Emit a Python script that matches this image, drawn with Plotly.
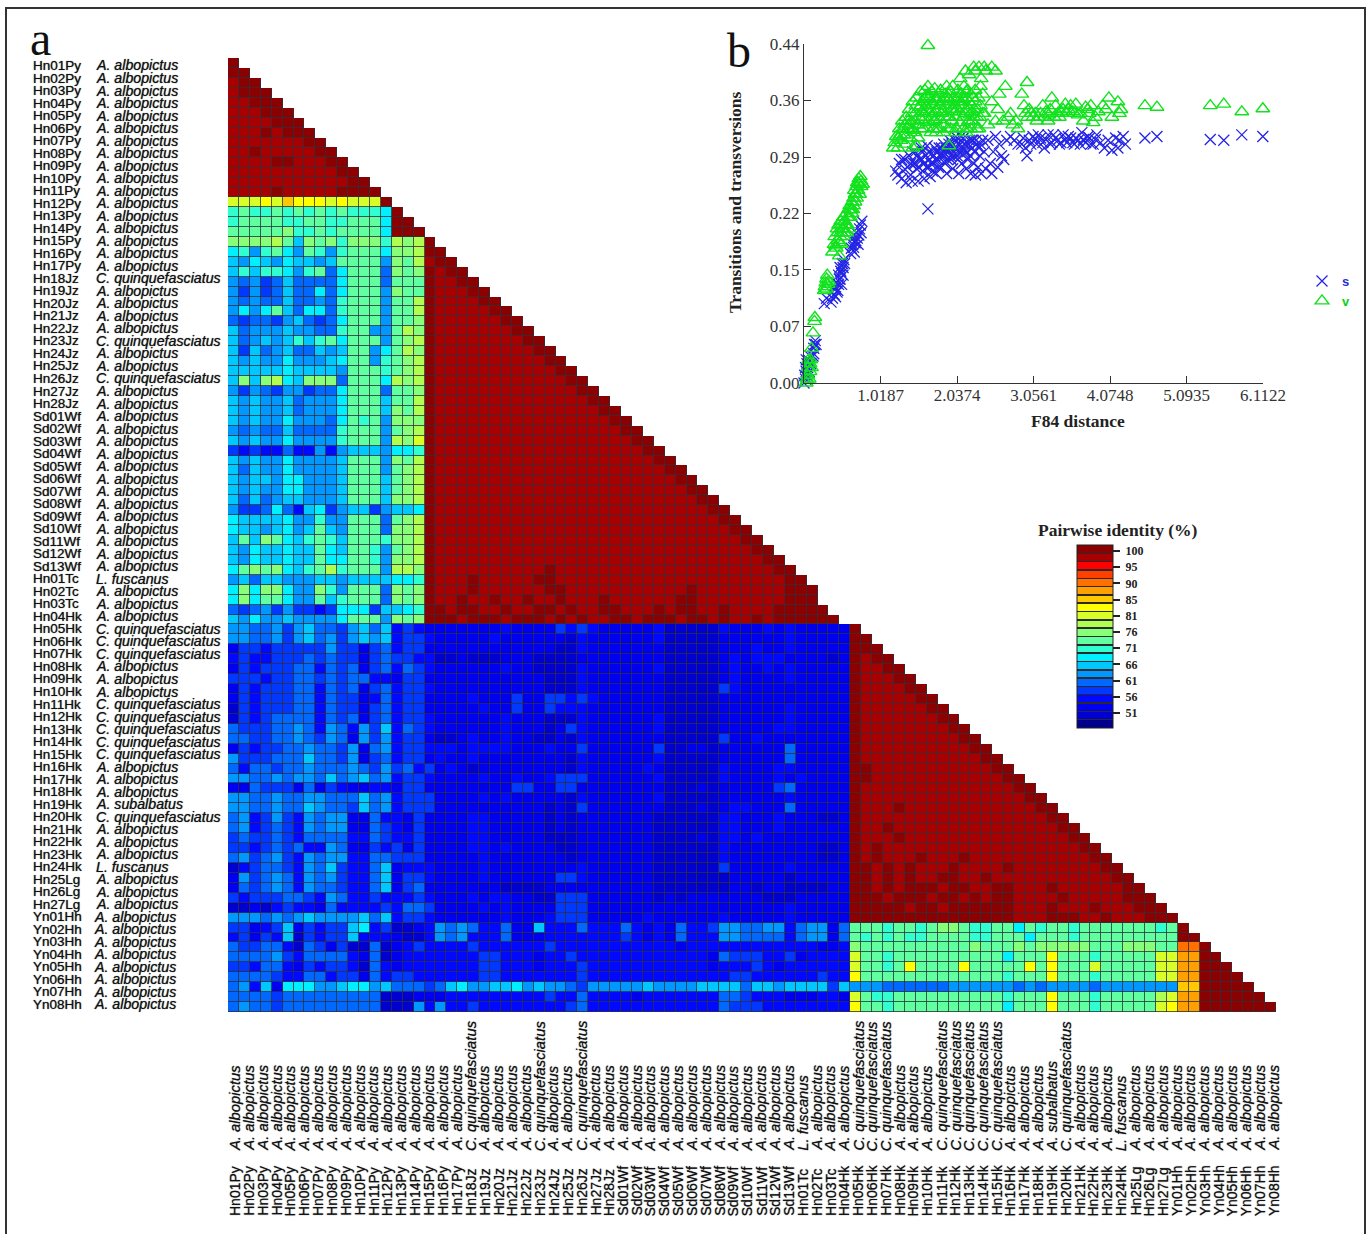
import plotly.graph_objects as go

W, H = 1371, 1234

# ---------- sequence labels ----------
codes = ["Hn%02dPy" % i for i in range(1, 18)] + ["Hn%02dJz" % i for i in range(18, 29)] + \
        ["Sd%02dWf" % i for i in range(1, 14)] + ["Hn%02dTc" % i for i in range(1, 4)] + \
        ["Hn%02dHk" % i for i in range(4, 25)] + ["Hn%02dLg" % i for i in range(25, 28)] + \
        ["Yn%02dHh" % i for i in range(1, 9)]
A, C, L_, S = "A. albopictus", "C. quinquefasciatus", "L. fuscanus", "A. subalbatus"
species = [A]*17 + [C] + [A]*4 + [C] + [A]*2 + [C] + [A]*2 + [A]*13 + [L_, A, A] + [A] + [C]*3 + [A]*3 + \
          [C]*5 + [A]*3 + [S] + [C] + [A]*3 + [L_] + [A]*3 + [A]*8

# ---------- identity levels: one character per cell, index into the 22 legend bands ----------
LEVELS = "0123456789ABCDEFGHIJKL"
band_colors = ["#00008b", "#0000d0", "#0000f0", "#0008ff", "#0038ff", "#0068ff", "#0098ff", "#00c8ff",
               "#00f0ff", "#30ffd0", "#60ffa0", "#88ff78", "#b0ff50", "#d8ff28", "#ffff00", "#ffc800",
               "#ffa000", "#ff7000", "#ff4000", "#ff0000", "#a80000", "#8b0000"]

red_top = ["L", "LL", "KLL", "KLLL", "KKLLL", "KKKLLL", "KKKKLLL", "KKKLKLLL", "KKKKKKKLL", "KKLKKKKKLL",
           "KKKKLLKKKLL", "KKKKKKKKKKLL", "KKKKKKKKKKKLL", "KKKKLKKKKKLLLL"]
left_head = ["DDDEDFEEEDEDDDL", "9A99A9A9A9A9998L", "9AAAA99AA99AAA8LL", "AAAAAB99A9AAAA8LLL"]
left_mid = [
    "BBBBCA7BAB9BBB9CBC", "8969A86A969AAA8BBC", "7687687767AAAA6BAC", "79799869A58AAA5BAB",
    "65645755558AAA5AAA", "64645755858AAA6BAA", "65655755659AAA6AAC", "6868A758859AAA6AAC",
    "54554675458AAA6AAB", "75666766559AA66ACB", "756767979A8AAA6ABC", "74756755767AA68ACB",
    "76766866678AA69ABC", "77777877776AAA9ABC", "7B7BC87BBB5AAA8CBC", "64654664558AAA5AAB",
    "76766756668AAA7AAC", "76766756668AAA7BAC", "76766866658A9A6BBB", "65655755559AAA6ABC",
    "76766866669AAA6CBD", "434335336367776889", "76766866667AAA6BAC", "75766866667AAA6ABC",
    "76776886667AAA7ABC", "76766886667AAA7ABC", "75756776667AAA7BBC", "644585378467746778",
    "87777866966AAA5ABC", "87767867A76AAA5BBC", "7A7BA879A97AAA9BBC", "76877877A87AA96ABC",
    "76877877A88AA96BBC", "8ABAB879AC9AAA6CCB", "675776667767777889", "8B8BB866B96AAA5BAB",
    "8B8AA866A79AAA5BAB", "545646443488847789", "76866766668AAA6BAB",
]
left_low = [
    "665564675546757343", "665564675646767344", "244344444644245344", "343344454544245443",
    "243444553545245354", "444344554545533244", "243444553545245344", "243444553544235344",
    "143444553544245344", "143455553545245344", "544455653653647354", "554455654652646344",
    "243445565546256344", "644455575546245344", "535545565556546453", "665565665756756344",
    "225444252432233244", "665565566555756344", "665565576554756344", "563464365662253324",
    "563454365662254324", "454454355553354334", "443454533652243424", "564564365663355444",
    "134554365743357233", "264565365643357244", "254565365543357245", "434445543653343334",
    "112134332533334355", "666565676666757344", "442347243447834112", "342437143447333211",
    "544553154241151234", "555564355553251233", "443553243443153233", "555543355344253443",
    "563728886678867555", "555545555555551112", "565545555555551116",
]
blue_mid = [
    "222222232222434322222311111322232322222", "322222322222213222222311111222222322222", "222222222222113222222211111222322322222",
    "311211122211112222222211111232333222212", "322222232211113222222311111232232322222", "222222222221113222222211111232222322222",
    "322222222221113222222211111432222222222", "222232224224434322222211111222222222222", "222223224224333222222211111222222322222",
    "322222232221113222222311111222222322222", "322222232221243222222311111222223322222", "211232232211213222222211111422322222222",
    "333233332223224222222411221222222522222", "232232222222213222222311111222222522222", "423212222222213222223211111322223322222",
    "322223223223444222222311111322223232222", "222222224422442222222211121222224522222", "422223232222213222222311111222222322222",
    "422222222221214222222211121233222522222", "222233222221212222222111111332223222112", "222233222221212222222111111332223222222",
    "222233222221112222222111121332322222222", "222233232222112222222111111322222222112", "222223222222212222222111111322222222112",
    "322223222222223222222111111422222322222", "322223222222443222222111111122222122222", "222222211112222222222111111122122111122",
    "322232332211444222222121222222211122222", "422223232222444222222222222222222322222", "322222232223444222223222222322222322222",
]
blue_low = [
    "365653352273335333532325334665566356625", "365633352223333333432325333665555356625", "333343333334333333333332333333333333223",
    "333334433323343333333333332544433423333", "333334433323334333333333332333432333333", "333334433333334333333333333344333333433",
    "457866778676654666667666677775776777747", "223333333334335333323333333554333222332", "363343333333345333333333333544433333333",
]
green_low = [
    "AAA9AA9ABBA99AA8A9AA9AAAAAAA9A", "A9A9A99AAAA99AAA8AAA9AAAAAAAAA", "BAAAAAAAAAABAAABABBBBBAAABBBAA",
    "DAA9AAAAAAAAAA8AAAEAAA9AAAAADD", "DAA9AEAAAAEAAAAAEAEAAADAAAAADD", "EAAAAAAAAAAAAA9AAAEAAA9AAAAADD",
    "666555555666666565666656666666", "DA99AAAAAAAAAA9AAAEAAA9AAAAACD", "EAA9AAAAAAAAAA8AAAEAAA9AAAAADE",
]
tail_low = ["L", "LL", "HHL", "GGLL", "GGLLL", "GGLLLL", "FFLLLLL", "GGLLLLLL", "GGLLLLLLL"]
# dark / mid red pattern per row of the two big identity triangles, left to right
red_mid = ["L", "LL", "KLL", "LKLL", "LKKLL", "LKKKLL", "LKKKKLL", "LKKKKKLL", "LKKKKKKLL", "LKKKKKKKLL",
    "LKKKKKKKKLL", "LKKKKKKKKKLL", "LKKKKKKKKKKLL", "LKKKKKKKKKKKLL", "LKKKKKKKKKKKKLL", "LKKKKKKKKKKKKKLL",
    "LKKKKKKKKKKKKKKLL", "LKKKKKKKKKKKKKKKLL", "LKKKKKKKKKKKKKKKKLL", "LKKKKKKKKKKKKKKKKKLL",
    "LKKKKKKKKKKKKKKKKKKLL", "LKKKKKKKKKKKKKKKKKKKLL", "LKKKKKKKKKKKKKKKKKKKKLL", "LKKKKKKKKKKKKKKKKKKKKKLL",
    "LKKKKKKKKKKKKKKKKKKKKKKLL", "LKKKKKKKKKKKKKKKKKKKKKKKLL", "LKKKKKKKKKKKKKKKKKKKKKKKKLL",
    "LKKKKKKKKKKKKKKKKKKKKKKKKKLL", "LKKKKKKKKKKKKKKKKKKKKKKKKKKLL", "LKKKKKKKKKKKKKKKKKKKKKKKKKKKLL",
    "LKKKKKKKKKKKKKKKKKKKKKKKKKKKKLL", "LKKKKKKKKKKKKKKKKKKKKKKKKKKKKKLL", "LKKKKKKKKKKKKKKKKKKKKKKKKKKKKKKLL",
    "LKKKKKKKKKKLKKKKKKKKKKKKKKKKKKKKLL", "LKKKLKKKKKLLKKKKKKKKKKKKKKKKKKKKKLL", "LKKKLKKKKKKLLKKKKKKKKKKKLKKKKKKKKLLL",
    "LKKLKKLKKLKKLKKKLKKKKKKLLKKKKKKKKLLL", "LLKLLKKLKKLLKLKKLLKKKLKLLKKLKKKKLLLLL",
    "LLLKLLLKLLLKLKLKKLLKLLLKLLKLKKLKLLLLLL"]
red_hk = ["L", "LL", "LLL", "LKLL", "LKKLL", "LKKKLL", "LKKKKLL", "LKKKKKLL", "LKKKKKKLL", "LKKKKKKKLL",
    "LKKKKKKKKLL", "LKKKKKKKKKLL", "LKKKKKKKKKKLL", "LKKKKKKKKKKKLL", "LLKKKKKKKKKKKLL", "LLKKKKKKKKKKKKLL",
    "LKKKKKKKKKKKKKKLL", "LKKKKKKKKKKKKKKKLL", "LKKKLKKKKKKKKKKKKLL", "LKKKKKKKKKKKKKKKKKLL",
    "LKKLKKKKKKKKKKKKKKKLL", "LKKKLKKKKKKKKKKKKKKKLL", "LKLKKKKKKKKKKKKKKKKKKLL", "LKLKKKLKKKLKKKKKKKKKKKLL",
    "LLKLKLKKKLKKKKLKKKKKKKKLL", "LLKLKLKKLLKKLKKKKKKKKKKKLL", "LLKLKLLLKLLKKLLKKKLKKKKKKLL", "LLLKLLLKLLKLKLLKKKKLKKKKKLLL",
    "LLLLLKLLKLLLLLLKKKLKKKLKKKLLL", "LLLLLLLLLLLLLLLKKKLLLKKLKKKLLL"]

# colour scale: real percent range of the legend
z_min, z_max = 46.5, 101.8
def pct(ch):
    return z_min + (LEVELS.index(ch) + 0.5) * (z_max - z_min) / 22

N = 96
rows = list(red_top) + list(left_head)
for i, s in enumerate(left_mid):
    rows.append(s + red_mid[i])
for i, s in enumerate(left_low):
    if i < 30:
        rows.append(s + blue_mid[i] + red_hk[i])
    else:
        k = i - 30
        rows.append(s + blue_low[k] + green_low[k] + tail_low[k])

z, mask = [], []
for r in range(N):
    s = rows[r][:r + 1]
    vals = [pct(c) for c in s]
    z.append(vals + [None] * (N - len(vals)))
    mask.append([1] * len(vals) + [None] * (N - len(vals)))
cells = list(range(N))

# ---------- panel b: points ----------
s_points = [(.0,.0),(.01,.01),(.02,.005),(.02,.02),(.03,.015),(.03,.03),(.04,.025),(.05,.02),(.06,.03),(.08,.035),(.09,.025),(.04,.01),(.07,.015),
(.12,.035),(.13,.045),(.14,.05),(.15,.055),(.16,.05),(.13,.038),
(.27,.103),(.30,.11),(.36,.105),(.38,.11),(.40,.115),(.42,.112),(.41,.125),(.43,.13),(.45,.12),(.46,.14),(.47,.135),(.48,.15),(.49,.145),(.50,.128),(.51,.155),(.52,.14),(.53,.16),
(.44,.118),(.46,.128),(.48,.135),(.50,.142),(.52,.15),(.54,.155),(.42,.122),
(.62,.168),(.63,.175),(.65,.18),(.67,.17),(.68,.19),(.69,.185),(.70,.195),(.72,.18),(.74,.2),(.75,.205),(.77,.21),(.76,.195),(.66,.176),(.68,.182),(.71,.188),(.73,.192),
(1.22,.275),(1.25,.27),(1.27,.285),(1.30,.265),(1.32,.275),(1.34,.29),(1.36,.26),(1.38,.28),(1.40,.295),(1.42,.27),(1.44,.262),(1.46,.285),(1.48,.30),(1.50,.278),(1.52,.262),(1.54,.29),(1.56,.305),(1.58,.275),(1.60,.265),(1.62,.295),(1.64,.308),(1.66,.28),(1.68,.268),(1.70,.298),(1.72,.285),(1.74,.305),(1.76,.272),(1.78,.29),(1.80,.305),(1.82,.28),(1.84,.295),(1.86,.31),(1.88,.285),(1.90,.272),(1.92,.30),(1.94,.315),(1.96,.29),(1.98,.278),(2.00,.305),(2.02,.32),(2.04,.295),(2.06,.272),(2.08,.31),(2.10,.285),(2.12,.318),(2.14,.30),(2.16,.278),(2.18,.29),(2.20,.315),(2.22,.272),(2.24,.305),(2.26,.285),(2.28,.27),(2.30,.31),(2.32,.28),(2.34,.295),(2.36,.272),(2.40,.30),(2.42,.278),(2.45,.315),(2.48,.285),(2.50,.272),(2.52,.30),(2.55,.32),(2.58,.28),(2.60,.31),(2.63,.295),(2.66,.29),(2.70,.315),(2.75,.32),(2.80,.315),(2.85,.31),(2.90,.31),(2.97,.295),(1.65,.226),
(1.30,.29),(1.45,.30),(1.50,.295),(1.58,.30),(1.66,.30),(1.75,.29),(1.85,.30),(1.95,.305),(2.05,.31),(2.15,.31),(2.25,.315),(2.35,.31),
(1.42,.285),(1.48,.285),(1.53,.28),(1.57,.29),(1.60,.285),(1.63,.28),(1.67,.29),(1.69,.285),(1.71,.275),(1.73,.295),(1.77,.30),(1.79,.28),(1.81,.295),(1.83,.305),(1.87,.295),(1.89,.305),(1.91,.29),(1.93,.31),(1.95,.295),(1.97,.31),(1.99,.295),(2.01,.315),(2.03,.305),(2.05,.29),(2.07,.30),(2.09,.32),(2.11,.30),(2.13,.31),(2.17,.30),(2.19,.31),(2.21,.295),(2.23,.315),(2.27,.30),(2.29,.315),(2.33,.305),(2.38,.315),
(2.92,.318),(2.95,.305),(3.0,.315),(3.05,.32),(3.1,.31),(3.15,.318),(3.2,.305),(3.25,.322),(3.3,.312),(3.35,.318),(3.4,.31),(3.45,.322),(3.5,.312),(3.55,.318),(3.6,.31),(3.65,.315),(3.7,.325),(3.75,.312),(3.8,.318),(3.85,.31),(3.9,.322),(3.95,.312),(4.0,.305),(4.05,.315),(4.1,.302),(4.15,.318),(4.18,.305),(4.2,.315),(4.25,.32),(4.28,.31),
(3.02,.31),(3.08,.316),(3.12,.322),(3.18,.312),(3.22,.316),(3.28,.31),(3.32,.322),(3.38,.315),(3.42,.312),(3.48,.316),(3.52,.32),(3.58,.312),(3.62,.318),(3.68,.31),(3.72,.316),(3.78,.32),(3.82,.31),(3.88,.316),
(4.54,.318),(4.70,.32),(5.41,.316),(5.59,.315),(5.83,.322),(6.11,.32)]
v_points = [(.03,.0),(.05,.01),(.06,.02),(.07,.005),(.08,.015),(.09,.03),(.10,.02),(.06,.03),(.04,.005),(.08,.025),
(.10,.045),(.12,.065),(.14,.08),(.145,.085),
(.27,.12),(.28,.125),(.29,.13),(.30,.135),(.31,.14),(.30,.122),(.32,.128),(.33,.132),
(.38,.17),(.40,.18),(.41,.19),(.43,.175),(.44,.20),(.45,.185),(.46,.205),(.47,.165),(.48,.19),(.49,.21),(.50,.18),(.51,.20),(.52,.215),(.53,.19),(.54,.21),(.55,.205),(.56,.22),(.57,.195),(.58,.215),(.59,.225),(.60,.20),(.61,.23),(.62,.215),(.63,.225),(.64,.235),(.65,.225),(.66,.24),(.67,.25),(.68,.235),(.69,.245),(.70,.255),(.71,.26),(.72,.25),(.73,.265),(.74,.258),(.75,.268),(.76,.262),(.78,.258),
(.42,.178),(.45,.195),(.47,.182),(.49,.195),(.50,.205),(.52,.20),(.54,.195),(.56,.205),(.58,.205),(.60,.215),(.62,.225),(.64,.22),(.66,.23),(.68,.245),(.70,.24),(.72,.26),(.74,.245),(.76,.255),
(1.19,.305),(1.21,.312),(1.23,.32),(1.25,.305),(1.27,.33),(1.29,.315),(1.31,.34),(1.33,.322),(1.35,.31),(1.36,.345),(1.38,.33),(1.40,.355),(1.41,.318),(1.43,.34),(1.45,.365),(1.46,.328),(1.48,.35),(1.50,.37),(1.51,.335),(1.52,.318),(1.54,.358),(1.55,.378),(1.56,.342),(1.58,.365),(1.59,.33),(1.60,.35),(1.61,.38),(1.63,.36),(1.64,.338),(1.65,.385),(1.67,.37),(1.68,.35),(1.69,.325),(1.70,.378),(1.71,.36),(1.73,.34),(1.74,.382),(1.75,.368),(1.76,.352),(1.77,.33),(1.79,.375),(1.80,.36),(1.81,.342),(1.82,.38),(1.84,.365),(1.85,.352),(1.86,.335),(1.88,.375),(1.89,.36),(1.90,.385),(1.91,.345),(1.92,.33),(1.93,.368),(1.95,.378),(1.96,.355),(1.97,.34),(1.98,.385),(2.00,.37),(2.01,.36),(2.02,.345),(2.03,.33),(2.05,.38),(2.06,.365),(2.07,.352),(2.08,.338),(2.10,.375),(2.11,.36),(2.12,.345),(2.13,.385),(2.15,.37),(2.16,.355),(2.17,.33),(2.18,.38),(2.20,.365),(2.21,.348),(2.22,.375),(2.23,.36),(2.24,.34),(2.25,.37),(2.27,.355),(2.28,.38),(2.30,.345),(2.32,.37),(2.33,.33),(2.35,.36),
(1.28,.322),(1.34,.335),(1.37,.322),(1.39,.34),(1.42,.33),(1.44,.35),(1.47,.34),(1.49,.36),(1.53,.345),(1.55,.33),(1.57,.352),(1.62,.345),(1.65,.355),(1.66,.34),(1.69,.365),(1.72,.35),(1.75,.34),(1.78,.355),(1.83,.35),(1.87,.345),(1.90,.37),(1.94,.345),(1.99,.355),(2.04,.355),(2.09,.365),(2.14,.35),(2.19,.34),(2.26,.345),(2.31,.355),(2.12,.33),(1.72,.33),(1.80,.33),(1.95,.33),(2.22,.33),(2.28,.335),(2.34,.345),(2.38,.35),
(1.26,.318),(1.32,.33),(1.40,.335),(1.44,.328),(1.48,.325),(1.52,.335),(1.56,.36),(1.60,.368),(1.62,.372),(1.66,.375),(1.70,.345),(1.74,.36),(1.78,.368),(1.82,.36),(1.86,.37),(1.92,.375),(1.96,.365),(2.00,.352),(2.04,.37),(2.08,.375),(2.12,.368),(2.16,.378),(2.20,.355),(2.24,.352),(2.28,.365),(1.76,.325),(1.86,.325),(2.02,.325),(2.16,.325),(2.30,.33),
(1.45,.305),(1.50,.308),(1.93,.308),(1.65,.438),
(2.08,.395),(2.15,.405),(2.20,.40),(2.26,.41),(2.28,.405),(2.33,.41),(2.40,.41),(2.42,.405),(2.50,.41),(2.55,.405),(2.36,.395),(2.35,.385),(2.38,.375),
(2.40,.35),(2.45,.335),(2.50,.365),(2.55,.34),(2.60,.375),(2.58,.355),(2.65,.34),(2.68,.385),(2.72,.345),(2.75,.35),(2.78,.335),(2.82,.34),(2.85,.33),(2.90,.375),(2.93,.36),(2.97,.39),(3.0,.355),(3.03,.35),(3.05,.345),(3.10,.34),(3.15,.35),(3.18,.36),(3.20,.345),(3.25,.34),(3.28,.355),(3.30,.37),(3.33,.345),(3.35,.36),(3.4,.345),(3.45,.355),(3.48,.362),(3.5,.35),(3.55,.36),(3.6,.35),(3.62,.362),(3.68,.35),(3.72,.34),(3.75,.358),(3.8,.35),(3.82,.36),(3.85,.338),(3.88,.345),(3.92,.352),(3.98,.36),(4.02,.355),(4.06,.37),(4.10,.345),(4.18,.365),(4.20,.35),(4.22,.355),
(2.95,.35),(2.98,.345),(3.08,.35),(3.12,.345),(3.22,.352),(3.26,.348),(3.38,.35),(3.42,.352),(3.52,.355),(3.58,.352),(3.65,.348),(3.78,.355),
(4.54,.36),(4.70,.358),(5.41,.36),(5.59,.362),(5.83,.352),(6.11,.356)]

x_ticks = [1.0187, 2.0374, 3.0561, 4.0748, 5.0935, 6.1122]
y_ticks = [0, 0.0733, 0.1467, 0.22, 0.2933, 0.3667, 0.44]
y_tick_text = ["0.00", "0.07", "0.15", "0.22", "0.29", "0.36", "0.44"]
bar_ticks = [100, 95.1, 90.2, 85.3, 80.4, 75.5, 70.6, 65.7, 60.8, 55.9, 51]
bar_text = ["\u00a0100", "\u00a095", "\u00a090", "\u00a085", "\u00a081", "\u00a076", "\u00a071", "\u00a066", "\u00a061", "\u00a056", "\u00a051"]

# ---------- layout helpers ----------
px = lambda v: v / W
py = lambda v: 1 - v / H
SANS, SERIF = "Liberation Sans", "Liberation Serif"
SOFT = "0 0 1px #444"

scale = []
eps = 0.004
SEP = "#2a2a2a"
for k, col in enumerate(band_colors):
    lo, hi = k / 22, (k + 1) / 22
    scale += [[lo, col if k == 0 else SEP]]
    if k > 0:
        scale += [[lo + eps, SEP], [lo + eps, col]]
    if k < 21:
        scale += [[hi - eps, col], [hi - eps, SEP]]
    else:
        scale += [[hi, col]]

fig = go.Figure()
fig.add_trace(go.Heatmap(x=cells, y=cells, z=mask, colorscale=[[0, "#30303a"], [1, "#30303a"]],
                         showscale=False, hoverinfo="skip", xaxis="x", yaxis="y"))
fig.add_trace(go.Heatmap(x=cells, y=cells, z=z, zmin=z_min, zmax=z_max, colorscale=scale, xgap=0.8, ygap=0.8,
                         xaxis="x", yaxis="y",
                         colorbar=dict(x=px(1077), xanchor="left", xref="paper", y=py(545), yanchor="top", yref="paper",
                                       len=183, lenmode="pixels", thickness=36, thicknessmode="pixels",
                                       xpad=0, ypad=0, outlinecolor="#222", outlinewidth=1,
                                       tickmode="array", tickvals=bar_ticks, ticktext=bar_text,
                                       ticks="outside", ticklen=7, tickwidth=1.5, tickcolor="#222",
                                       tickfont=dict(family=SERIF, size=12, color="#222", weight="bold"))))
fig.add_trace(go.Scatter(x=[p[0] for p in s_points], y=[p[1] for p in s_points], mode="markers", xaxis="x2", yaxis="y2",
                         name='<span style="color:#2a2ae0"><b>s</b></span>', cliponaxis=False,
                         marker=dict(symbol="x-thin-open", size=11, color="#2424e6", line=dict(width=1.3, color="#2424e6"))))
fig.add_trace(go.Scatter(x=[p[0] for p in v_points], y=[p[1] for p in v_points], mode="markers", xaxis="x2", yaxis="y2",
                         name='<span style="color:#10d020"><b>v</b></span>', cliponaxis=False,
                         marker=dict(symbol="triangle-up-open", size=12, color="#12e21e", line=dict(width=1.4, color="#12e21e"))))

ann = []
row_step = (1004.5 - 65.5) / 75
col_step = (1273.5 - 235) / 75
for i, (c, sp) in enumerate(zip(codes, species)):
    yy = 65.5 + i * row_step
    xx = 235 + i * col_step
    ann.append(dict(x=px(31), y=py(yy), xref="paper", yref="paper", text=c, showarrow=False, xanchor="left", yanchor="middle",
                    font=dict(family=SANS, size=13.5, color="#111", shadow=SOFT)))
    ann.append(dict(x=px(94 if i < 68 else 92), y=py(yy), xref="paper", yref="paper", text="<i>%s</i>" % sp, showarrow=False,
                    xanchor="left", yanchor="middle", font=dict(family=SANS, size=14.2, color="#111", shadow=SOFT)))
    ann.append(dict(x=px(xx), y=py(1218), xref="paper", yref="paper", text=c, showarrow=False, textangle=-90, xanchor="center",
                    yanchor="bottom", font=dict(family=SANS, size=14, color="#111", shadow=SOFT)))
    ann.append(dict(x=px(xx), y=py(1153), xref="paper", yref="paper", text="<i>%s</i>" % sp, showarrow=False, textangle=-90,
                    xanchor="center", yanchor="bottom", font=dict(family=SANS, size=14.8, color="#111", shadow=SOFT)))
ann += [
    dict(x=px(28), y=py(38), xref="paper", yref="paper", text="a", showarrow=False, xanchor="left", yanchor="middle",
         font=dict(family=SERIF, size=48, color="#111")),
    dict(x=px(725), y=py(50), xref="paper", yref="paper", text="b", showarrow=False, xanchor="left", yanchor="middle",
         font=dict(family=SERIF, size=48, color="#111")),
    dict(x=px(1118), y=py(530), xref="paper", yref="paper", text="<b>Pairwise identity (%)</b>", showarrow=False,
         xanchor="center", yanchor="middle", font=dict(family=SERIF, size=17.5, color="#222")),
    dict(x=px(1078), y=py(421), xref="paper", yref="paper", text="<b>F84 distance</b>", showarrow=False,
         xanchor="center", yanchor="middle", font=dict(family=SERIF, size=17.5, color="#222")),
    dict(x=px(735), y=py(202), xref="paper", yref="paper", text="<b>Transitions and transversions</b>", showarrow=False,
         textangle=-90, xanchor="center", yanchor="middle", font=dict(family=SERIF, size=17.5, color="#222")),
]

axis_off = dict(visible=False, showgrid=False, zeroline=False)
fig.update_layout(
    width=W, height=H, margin=dict(l=0, r=0, t=0, b=0, autoexpand=False), paper_bgcolor="white", plot_bgcolor="white",
    font=dict(family=SERIF, color="#333"),
    xaxis=dict(domain=[px(228), px(1276)], range=[-0.5, N - 0.5], anchor="y", **axis_off),
    yaxis=dict(domain=[py(1012), py(58)], range=[N - 0.5, -0.5], anchor="x", **axis_off),
    xaxis2=dict(domain=[px(804), px(1263)], range=[0, 6.1122], anchor="y2", showgrid=False, zeroline=False, showline=True,
                linecolor="#333", linewidth=1.2, ticks="inside", ticklen=7, tickcolor="#333",
                tickmode="array", tickvals=x_ticks, ticktext=["%.4f" % t for t in x_ticks], ticklabelstandoff=-4,
                tickfont=dict(family=SERIF, size=17, color="#333")),
    yaxis2=dict(domain=[py(383), py(44)], range=[0, 0.44], anchor="x2", showgrid=False, zeroline=False, showline=True,
                linecolor="#333", linewidth=1.2, ticks="inside", ticklen=7, tickcolor="#333",
                tickmode="array", tickvals=y_ticks, ticktext=y_tick_text,
                tickfont=dict(family=SERIF, size=17, color="#333")),
    legend=dict(x=px(1302), y=py(266), xanchor="left", yanchor="top", bgcolor="rgba(0,0,0,0)", borderwidth=0,
                font=dict(family=SANS, size=13), itemwidth=30, tracegroupgap=0),
    annotations=ann,
    shapes=[dict(type="rect", xref="paper", yref="paper", x0=px(6), x1=px(1365), y0=-0.02, y1=py(8),
                 line=dict(color="#333", width=2), layer="below")],
)
fig.write_html("out.html", config={"displayModeBar": False}, post_script="document.body.style.margin='0';")
